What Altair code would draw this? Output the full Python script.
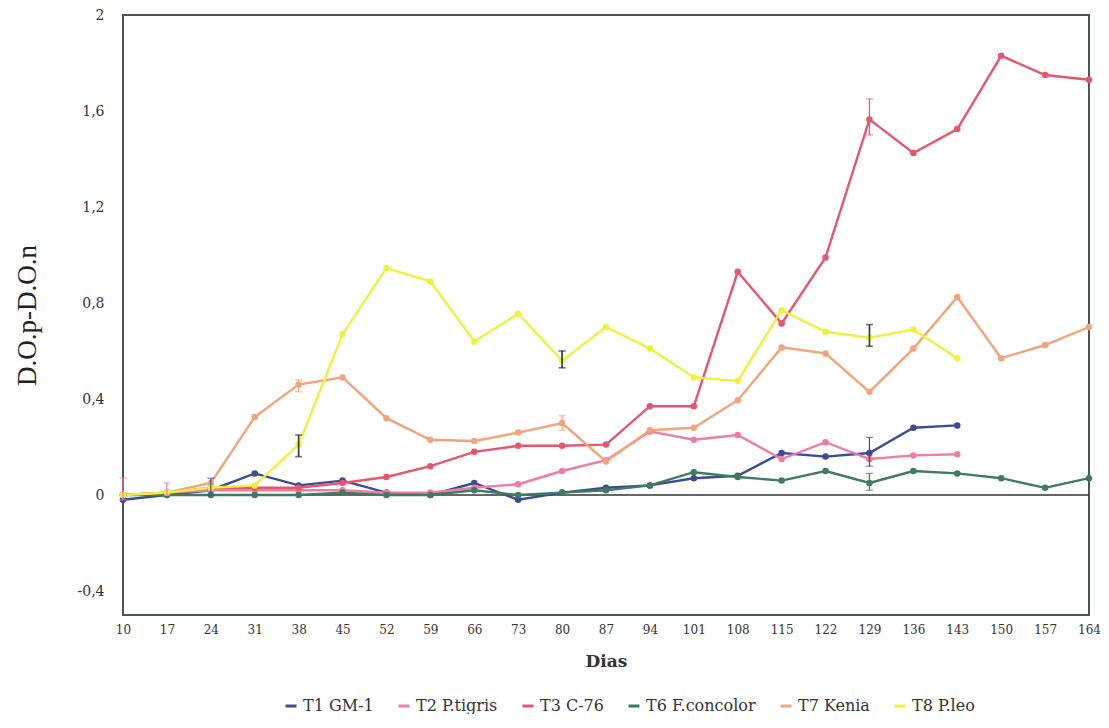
import altair as alt
import pandas as pd

days = ["10", "17", "24", "31", "38", "45", "52", "59", "66", "73", "80", "87",
        "94", "101", "108", "115", "122", "129", "136", "143", "150", "157", "164"]

series_names = ["T1 GM-1", "T2 P.tigris", "T3 C-76", "T6 F.concolor", "T7 Kenia", "T8 P.leo"]
series_colors = ["#3b4c95", "#f27aa6", "#e8566e", "#3f7b5e", "#f3a47a", "#eef23c"]

t1 = [-0.02, 0.0, 0.02, 0.09, 0.04, 0.06, 0.01, 0.0, 0.05, -0.02, 0.01, 0.03,
      0.04, 0.07, 0.08, 0.175, 0.16, 0.175, 0.28, 0.29]
t2 = [0.0, 0.01, 0.02, 0.02, 0.02, 0.02, 0.01, 0.01, 0.03, 0.045, 0.10, 0.145,
      0.265, 0.23, 0.25, 0.15, 0.22, 0.15, 0.165, 0.17]
t3 = [0.0, 0.01, 0.03, 0.03, 0.03, 0.05, 0.075, 0.12, 0.18, 0.205, 0.205, 0.21,
      0.37, 0.37, 0.93, 0.715, 0.99, 1.565, 1.425, 1.525, 1.83, 1.75, 1.73]
t6 = [0.0, 0.0, 0.0, 0.0, 0.0, 0.01, 0.0, 0.0, 0.02, 0.0, 0.01, 0.02,
      0.04, 0.095, 0.075, 0.06, 0.1, 0.05, 0.1, 0.09, 0.07, 0.03, 0.07]
t7 = [0.0, 0.01, 0.05, 0.325, 0.46, 0.49, 0.32, 0.23, 0.225, 0.26, 0.30, 0.14,
      0.27, 0.28, 0.395, 0.615, 0.59, 0.43, 0.61, 0.825, 0.57, 0.625, 0.70]
t8 = [0.0, 0.01, 0.03, 0.04, 0.21, 0.67, 0.945, 0.89, 0.64, 0.755, 0.56, 0.70,
      0.61, 0.49, 0.475, 0.77, 0.68, 0.655, 0.69, 0.57]

# error bars (series, day, low, high)
err_series = ["T8 P.leo", "T8 P.leo", "T8 P.leo", "T3 C-76", "T1 GM-1", "T6 F.concolor",
              "T7 Kenia", "T7 Kenia", "T2 P.tigris", "T2 P.tigris", "T1 GM-1"]
err_day = ["38", "80", "129", "129", "129", "129", "80", "38", "10", "17", "24"]
err_lo = [0.16, 0.53, 0.62, 1.50, 0.12, 0.02, 0.27, 0.43, -0.02, 0.0, 0.0]
err_hi = [0.25, 0.60, 0.71, 1.65, 0.24, 0.09, 0.33, 0.48, 0.07, 0.05, 0.07]

rows = []
for name, vals in zip(series_names, [t1, t2, t3, t6, t7, t8]):
    for d, v in zip(days, vals):
        rows.append({"day": d, "value": v, "series": name})
df = pd.DataFrame(rows)

err_df = pd.DataFrame({"series": err_series, "day": err_day, "lo": err_lo, "hi": err_hi})

serif = "DejaVu Serif"

x_enc = alt.X("day:O", sort=days, scale=alt.Scale(type="point", padding=0),
              axis=alt.Axis(title="Dias", labelAngle=0, labelFont=serif, labelFontSize=12,
                            labelColor="#333", titleFont=serif, titleFontSize=17,
                            titleFontWeight="bold", titleColor="#333", titlePadding=18,
                            ticks=False, domain=False, labelPadding=9))
y_scale = alt.Scale(domain=[-0.5, 2.0], nice=False, zero=False)
y_axis = alt.Axis(title="D.O.p-D.O.n", values=[-0.4, 0, 0.4, 0.8, 1.2, 1.6, 2.0],
                  labelExpr="(datum.value < 0 ? '-' : '') + replace(format(abs(datum.value), '~g'), '.', ',')",
                  labelFont=serif, labelFontSize=14, labelColor="#333",
                  titleFont="Liberation Serif", titleFontSize=27, titleFontWeight="normal",
                  titleColor="#222", titlePadding=36, grid=False, ticks=False, domain=False,
                  labelPadding=19)

color = alt.Color("series:N", sort=series_names,
                  scale=alt.Scale(domain=series_names, range=series_colors),
                  legend=alt.Legend(title=None, orient="none", direction="horizontal",
                                    legendX=160, legendY=683,
                                    labelFont=serif, labelFontSize=16, labelColor="#333",
                                    symbolType="stroke", symbolStrokeWidth=3, symbolSize=120,
                                    columnPadding=18))

zero = alt.Chart(pd.DataFrame({"z": [0]})).mark_rule(color="#333", strokeWidth=1.5).encode(
    y=alt.Y("z:Q", scale=y_scale, axis=y_axis))

lines = alt.Chart(df).mark_line(strokeWidth=2.4, point=alt.OverlayMarkDef(size=42, filled=True)).encode(
    x=x_enc,
    y=alt.Y("value:Q", scale=y_scale, axis=y_axis),
    color=color,
)

err_other = alt.Chart(err_df).transform_filter("datum.series != 'T8 P.leo'").mark_errorbar(
    ticks=alt.MarkConfig(size=7), thickness=1.2).encode(
    x=alt.X("day:O", sort=days),
    y=alt.Y("lo:Q", scale=y_scale, title="D.O.p-D.O.n"),
    y2="hi:Q",
    color=alt.Color("series:N", scale=alt.Scale(domain=series_names, range=series_colors), legend=None),
)
err_leo = alt.Chart(err_df).transform_filter("datum.series == 'T8 P.leo'").mark_errorbar(
    ticks=alt.MarkConfig(size=7), thickness=1.6, color="#333").encode(
    x=alt.X("day:O", sort=days),
    y=alt.Y("lo:Q", scale=y_scale, title="D.O.p-D.O.n"),
    y2="hi:Q",
)

chart = alt.layer(zero, lines, err_other, err_leo).properties(
    width=966, height=600, background="white",
    padding={"left": 5, "top": 0, "right": 0, "bottom": 0},
).configure_view(stroke="#4a5560", strokeWidth=2)

chart.save("out.html", embed_options={"renderer": "svg", "actions": False})
